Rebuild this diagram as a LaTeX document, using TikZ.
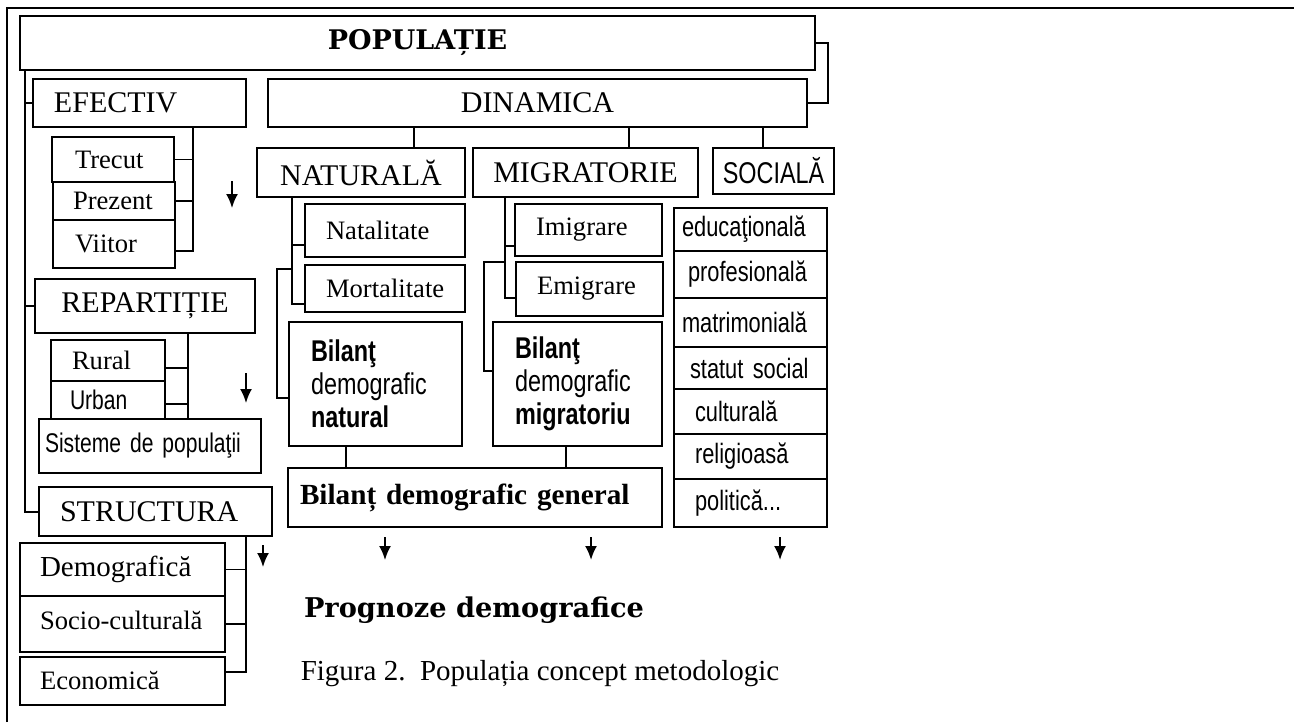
\documentclass[tikz,border=0pt]{standalone}
\usepackage{fontspec}
\setmainfont{Liberation Serif}
\newfontfamily\narrowsans[FakeStretch=0.78, WordSpace=0.8]{Liberation Sans}
\newfontfamily\bookfont{DejaVu Serif}
\usetikzlibrary{arrows.meta}
\tikzset{
	box/.style   = {draw, line width=1pt, rectangle, inner sep=0pt, fill=white},
	wire/.style  = {line width=0.8pt},
	down/.style  = {line width=1pt, -{Latex[length=7pt,width=6pt]}},
	head/.style  = {font=\bookfont\bfseries\fontsize{13.5}{16}\selectfont},
	big/.style   = {font=\fontsize{15}{18}\selectfont},
	small/.style = {font=\fontsize{13.3}{16}\selectfont},
	sans/.style  = {font=\narrowsans\fontsize{14}{16}\selectfont},
	bil/.style   = {font=\narrowsans\fontsize{15}{16.5}\selectfont}
}
% box with centred text: [opts]{name}{x1}{y1}{x2}{y2}{text}
\newcommand{\bx}[7][]{%
	\pgfmathsetmacro\boxw{(#5-#3)/2}%
	\pgfmathsetmacro\boxh{(#6-#4)/2}%
	\node[box, minimum width=\boxw pt, minimum height=\boxh pt, #1] (#2) at ({(#3+#5)/2},{(#4+#6)/2}) {#7};}
% box with text on the left: [opts]{name}{x1}{y1}{x2}{y2}{pad}{text}
\newcommand{\bxl}[8][]{%
	\pgfmathsetmacro\boxw{(#5-#3)/2-2*#7}%
	\pgfmathsetmacro\boxh{(#6-#4)/2}%
	\node[box, text width=\boxw pt, minimum height=\boxh pt, inner xsep=#7pt, align=left, #1] (#2) at ({(#3+#5)/2},{(#4+#6)/2}) {#8};}

\begin{document}
\begin{tikzpicture}[x=0.5pt, y=-0.5pt]
	\useasboundingbox (0,0) rectangle (1294,722);
	\draw[line width=1.2pt] (7,722) -- (7,8) -- (1294,8);
	
	% top
	\bx[head]{pop}{20}{16}{815}{70}{POPULAȚIE}
	\bx[big]{din}{268}{79}{807}{127}{DINAMICA}
	
	% left column
	\bxl[big]{efectiv}{33}{79}{246}{127}{10.5}{EFECTIV}
	\bxl[small]{trecut}{52}{137}{174}{182}{11.5}{Trecut}
	\bxl[small]{prezent}{53}{182}{175}{220}{10}{Prezent}
	\bxl[small]{viitor}{53}{220}{175}{268}{11}{Viitor}
	\bx[big]{repart}{35}{279}{255}{333}{REPARTIȚIE}
	\bxl[small]{rural}{51}{340}{165}{381}{10.5}{Rural}
	\bxl[sans, font=\narrowsans\fontsize{13.5}{16}\selectfont]{urban}{51}{381}{165}{419}{9.5}{Urban}
	\bxl[sans, font=\narrowsans\fontsize{13.5}{16}\selectfont]{sisteme}{39}{419}{261}{473}{3}{Sisteme de populaţii}
	\bxl[big]{struct}{39}{487}{272}{536}{10.5}{STRUCTURA}
	\bxl[font=\fontsize{14.5}{17}\selectfont]{demogr}{20}{543}{225}{596}{10}{Demografică}
	\bxl[small]{socio}{20}{596}{225}{652}{10}{\raisebox{3.5pt}{Socio-culturală}}
	\bxl[small]{econ}{20}{657}{225}{705}{10}{Economică}
	
	% dynamics
	\bx[big]{nat}{257}{148}{465}{197}{NATURALĂ}
	\bx[big]{migr}{473}{148}{698}{197}{MIGRATORIE}
	\bx[sans, font=\narrowsans\fontsize{15}{17}\selectfont]{soc}{713}{148}{834}{194}{SOCIALĂ}
	\bxl[small]{natal}{305}{204}{465}{257}{10.5}{Natalitate}
	\bxl[small]{mort}{305}{265}{465}{312}{10.5}{Mortalitate}
	\bxl[small]{imig}{515}{204}{662}{256}{10.5}{Imigrare}
	\bxl[small]{emig}{516}{262}{663}{316}{10.5}{Emigrare}
	\bxl[bil]{bnat}{289}{322}{462}{446}{11}{\textbf{Bilanţ}\\demografic\\\textbf{natural}}
	\bxl[bil]{bmig}{493}{322}{662}{446}{11}{\textbf{Bilanţ}\\demografic\\\textbf{migratoriu}}
	\bxl[font=\bfseries\fontsize{14.6}{18}\selectfont]{bgen}{288}{468}{662}{527}{6}{Bilanț demografic\hspace{5pt}general}
	
	% social column
	\bxl[sans]{edu}{674}{208}{827}{251}{4}{educaţională}
	\bxl[sans]{prof}{674}{251}{827}{298}{7}{profesională}
	\bxl[sans]{matr}{674}{298}{827}{347}{4}{matrimonială}
	\bxl[sans]{stat}{674}{347}{827}{389}{8}{\mbox{statut social}}
	\bxl[sans]{cult}{674}{389}{827}{434}{10.5}{culturală}
	\bxl[sans]{relig}{674}{434}{827}{479}{10.5}{religioasă}
	\bxl[sans]{polit}{674}{479}{827}{527}{10.5}{politică...}
	
	\node[font=\bookfont\bfseries\fontsize{13.6}{16}\selectfont] (progn) at (474,610) {Prognoze demografice};
	\node[font=\fontsize{14.5}{17}\selectfont] (fig) at (540,674) {Figura 2.\ \ Populația concept metodologic};
	
	% connectors
	\coordinate (tp) at (25,512);
	\draw[wire] (pop.south -| tp) -- (tp) -- (tp -| struct.west);
	\draw[wire] (efectiv.west -| tp) -- (efectiv.west);
	\draw[wire] (repart.west -| tp) -- (repart.west);
	\draw[wire] (pop.east) -- ++(12,0) |- (din.east);
	
	\coordinate (te) at (193,251);
	\draw[wire] (efectiv.south -| te) -- (te) -- (te -| viitor.east);
	\draw[wire] (trecut.east) -- (trecut.east -| te);
	\draw[wire] (prezent.east) -- (prezent.east -| te);
	
	\coordinate (tr1) at (188,368);
	\coordinate (tr2) at (188,404);
	\draw[wire] (repart.south -| tr1) -- (sisteme.north -| tr1);
	\draw[wire] (tr1) -- (tr1 -| rural.east);
	\draw[wire] (tr2) -- (tr2 -| urban.east);
	
	\coordinate (ts) at (246,672);
	\draw[wire] (struct.south -| ts) -- (ts) -- (ts -| econ.east);
	\draw[wire] (demogr.east -| ts) -- (demogr.east);
	\draw[wire] (socio.east -| ts) -- (socio.east);
	
	\coordinate (cn) at (414,0);
	\coordinate (cm) at (629,0);
	\coordinate (cs) at (763,0);
	\draw[wire] (din.south -| cn) -- (nat.north -| cn);
	\draw[wire] (din.south -| cm) -- (migr.north -| cm);
	\draw[wire] (din.south -| cs) -- (soc.north -| cs);
	
	\coordinate (tn1) at (292,245);
	\coordinate (tn2) at (292,304);
	\draw[wire] (nat.south -| tn1) -- (tn2) -- (tn2 -| mort.west);
	\draw[wire] (tn1) -- (tn1 -| natal.west);
	\coordinate (bn1) at (292,269);
	\coordinate (bn2) at (277,398);
	\draw[wire] (bn1) -| (bn2) -- (bn2 -| bnat.west);
	
	\coordinate (tm1) at (505,246);
	\coordinate (tm2) at (505,298);
	\draw[wire] (migr.south -| tm1) -- (tm2) -- (tm2 -| emig.west);
	\draw[wire] (tm1) -- (tm1 -| imig.west);
	\coordinate (bm1) at (505,262);
	\coordinate (bm2) at (484,371);
	\draw[wire] (bm1) -| (bm2) -- (bm2 -| bmig.west);
	
	\coordinate (g1) at (346,0);
	\coordinate (g2) at (566,0);
	\draw[wire] (bnat.south -| g1) -- (bgen.north -| g1);
	\draw[wire] (bmig.south -| g2) -- (bgen.north -| g2);
	
	% arrows
	\foreach \xx/\ya/\yb in {232/181/208, 246/373/403, 263/545/567, 385/537/560, 591/537/560, 780/537/560}
		\draw[down] (\xx,\ya) -- (\xx,\yb);
\end{tikzpicture}
\end{document}
